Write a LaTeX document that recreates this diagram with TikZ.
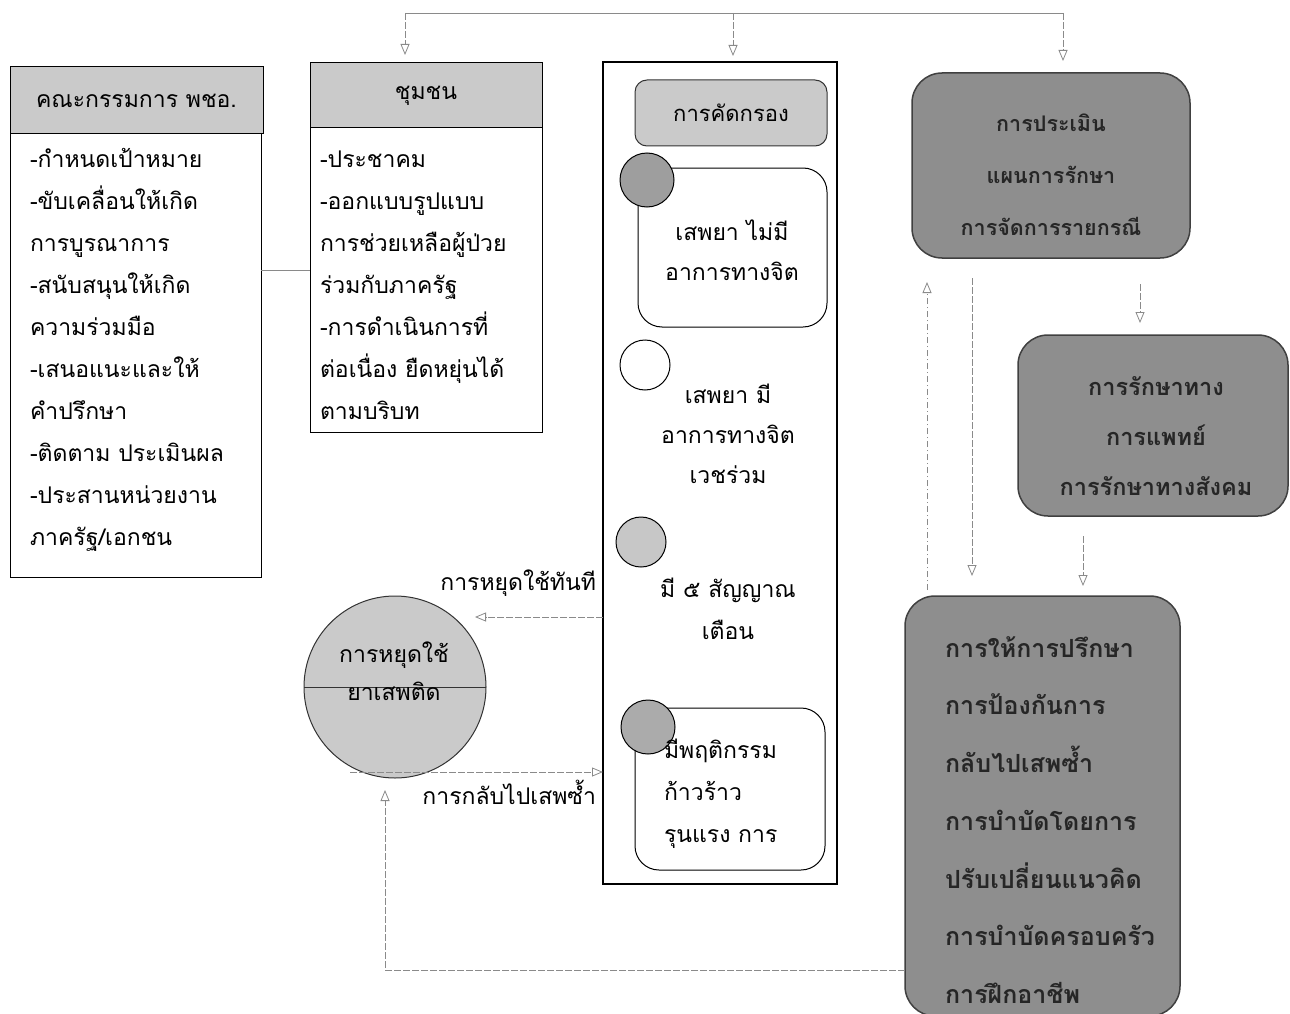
\documentclass[tikz,border=0pt]{standalone}
\usepackage{fontspec}
\setmainfont[Script=Thai]{Loma}
\usetikzlibrary{arrows.meta,calc}
\definecolor{hdrgray}{HTML}{CACACA}
\definecolor{boxgray}{HTML}{8E8E8E}
\definecolor{linegray}{HTML}{8A8A8A}
\begin{document}
\begin{tikzpicture}[x=1pt,y=-1pt,
  every node/.style={inner sep=0pt, outer sep=0pt},
  thai/.style={font=\fontsize{23pt}{42pt}\selectfont},
  hdr/.style={draw=black, line width=1pt, fill=hdrgray, rectangle, thai},
  listbox/.style={draw=black, line width=1pt, rectangle},
  listtxt/.style={thai, align=left, anchor=base west},
  screenbox/.style={draw=black, line width=1.2pt, rectangle},
  itembox/.style={draw=black, line width=1pt, rounded corners=24pt, rectangle},
  itemtxt/.style={thai, align=center, anchor=base},
  dot/.style={circle, draw=black, line width=1pt},
  darkbox/.style={draw=black!75, line width=1.5pt, fill=boxgray, rounded corners=30pt, rectangle},
  darktxt/.style={text=black!85},
  conn/.style={draw=linegray, line width=0.8pt, dash pattern=on 7pt off 2pt},
  arr/.style={conn, -{Triangle[open, length=11pt, width=9pt]}},
  dotarr/.style={arr, dash pattern=on 6pt off 3pt on 1pt off 3pt}
]
\useasboundingbox (0,0) rectangle (1290,1014);

% ---- committee box ----
\node[hdr, minimum width=253pt, minimum height=67pt] (pchoH) at (136.5,100.5) {คณะกรรมการ พชอ.};
\node[listbox, minimum width=251pt, minimum height=443pt] (pchoB) at (135.5,355.5) {};
\node[listtxt] (pchoT) at (30,545) {-กำหนดเป้าหมาย\\-ขับเคลื่อนให้เกิด\\การบูรณาการ\\-สนับสนุนให้เกิด\\ความร่วมมือ\\-เสนอแนะและให้\\คำปรึกษา\\-ติดตาม ประเมินผล\\-ประสานหน่วยงาน\\ภาครัฐ/เอกชน};

% ---- community box ----
\node[hdr, minimum width=232pt, minimum height=65pt] (chumH) at (426,95.5) {ชุมชน};
\node[listbox, minimum width=232pt, minimum height=304pt] (chumB) at (426,280) {};
\node[listtxt] (chumT) at (320,419) {-ประชาคม\\-ออกแบบรูปแบบ\\การช่วยเหลือผู้ป่วย\\ร่วมกับภาครัฐ\\-การดำเนินการที่\\ต่อเนื่อง ยืดหยุ่นได้\\ตามบริบท};

\coordinate (lnk) at (0,270);
\draw[conn, dash pattern={}] (pchoB.east |- lnk) -- (chumB.west |- lnk);

% ---- screening column ----
\node[screenbox, minimum width=234pt, minimum height=822pt] (scr) at (720,473) {};
\node[draw=black!80, line width=1pt, fill=hdrgray, rounded corners=12pt, minimum width=192pt, minimum height=66pt, font=\fontsize{22pt}{26pt}\selectfont] (scrH) at (731,113) {การคัดกรอง};

\node[itembox, minimum width=189pt, minimum height=159pt] (it1) at (732.5,247.5) {};
\node[dot, fill=black!38, minimum size=54pt] (d1) at (647,180) {};
\node[itemtxt, font=\fontsize{23pt}{40pt}\selectfont] (t1) at (732,280) {เสพยา ไม่มี\\อาการทางจิต};

\node[dot, fill=white, minimum size=50pt] (d2) at (645,365) {};
\node[itemtxt, font=\fontsize{23pt}{40pt}\selectfont] (t2) at (728,483) {เสพยา มี\\อาการทางจิต\\เวชร่วม};

\node[dot, fill=black!22, minimum size=50pt] (d3) at (641,542) {};
\node[itemtxt] (t3) at (728,639) {มี ๕ สัญญาณ\\เตือน};

\node[itembox, minimum width=190pt, minimum height=162pt] (it4) at (730,789) {};
\node[dot, fill=black!33, minimum size=54pt] (d4) at (648,727) {};
\node[listtxt] (t4) at (664,842) {มีพฤติกรรม\\ก้าวร้าว\\รุนแรง การ};

% ---- quitting circle ----
\node[circle, draw=black!80, line width=1pt, fill=hdrgray, minimum size=182pt] (stop) at (395,687) {};
\draw[black!80, line width=1pt] (stop.west) -- (stop.east);
\node[thai, align=center, anchor=base, font=\fontsize{23pt}{38pt}\selectfont] (stopT) at (394,700) {การหยุดใช้\\ยาเสพติด};

\coordinate (quitY) at (0,617);
\draw[arr] (scr.west |- quitY) -- (475,617);
\node[thai, anchor=base east] (quitL) at (596,590) {การหยุดใช้ทันที};

\coordinate (relY) at (0,772);
\draw[arr] (350,772) -- (scr.west |- relY);
\node[thai, anchor=base east] (relL) at (596,804) {การกลับไปเสพซ้ำ};

% ---- treatment boxes ----
\node[darkbox, minimum width=278pt, minimum height=185pt] (assess) at (1051,165.5) {};
\node[darktxt, align=center, font=\bfseries\fontsize{21.5pt}{52pt}\selectfont] (assessT) at (1051,175) {การประเมิน\\แผนการรักษา\\การจัดการรายกรณี};

\node[darkbox, minimum width=270pt, minimum height=181pt] (treat) at (1153,425.5) {};
\node[darktxt, align=center, font=\bfseries\fontsize{23.5pt}{50pt}\selectfont] (treatT) at (1156,436) {การรักษาทาง\\การแพทย์\\การรักษาทางสังคม};

\node[darkbox, minimum width=275pt, minimum height=420pt] (counsel) at (1042.5,806) {};
\node[darktxt, align=left, font=\bfseries\fontsize{25pt}{57.7pt}\selectfont] (counselT) at (1050,820) {การให้การปรึกษา\\การป้องกันการ\\กลับไปเสพซ้ำ\\การบำบัดโดยการ\\ปรับเปลี่ยนแนวคิด\\การบำบัดครอบครัว\\การฝึกอาชีพ};

% ---- top distribution line ----
\coordinate (topL) at (405,13);
\coordinate (topM) at (733,13);
\coordinate (topR) at (1063,13);
\draw[conn, dash pattern={}] (topL) -- (topR);
\draw[arr, shorten >=8pt] (topL) -- (topL |- chumH.north);
\draw[arr, shorten >=6pt] (topM) -- (topM |- scr.north);
\draw[arr, shorten >=12pt] (topR) -- (topR |- assess.north);

% ---- treatment flow ----
\coordinate (xa) at (972,0);
\draw[arr, shorten <=20pt, shorten >=20pt] (assess.south -| xa) -- (counsel.north -| xa);
\coordinate (xb) at (927,0);
\draw[dotarr, shorten <=6pt, shorten >=24pt] (counsel.north -| xb) -- (assess.south -| xb);
\coordinate (xc) at (1140,0);
\draw[arr, shorten <=26pt, shorten >=12pt] (assess.south -| xc) -- (treat.north -| xc);
\coordinate (xd) at (1083,0);
\draw[arr, shorten <=20pt, shorten >=10pt] (treat.south -| xd) -- (counsel.north -| xd);

% ---- return path ----
\coordinate (retY) at (0,970);
\coordinate (retX) at (385,0);
\draw[arr] (counsel.west |- retY) -- (retX |- retY) -- (385,790);
\end{tikzpicture}
\end{document}
